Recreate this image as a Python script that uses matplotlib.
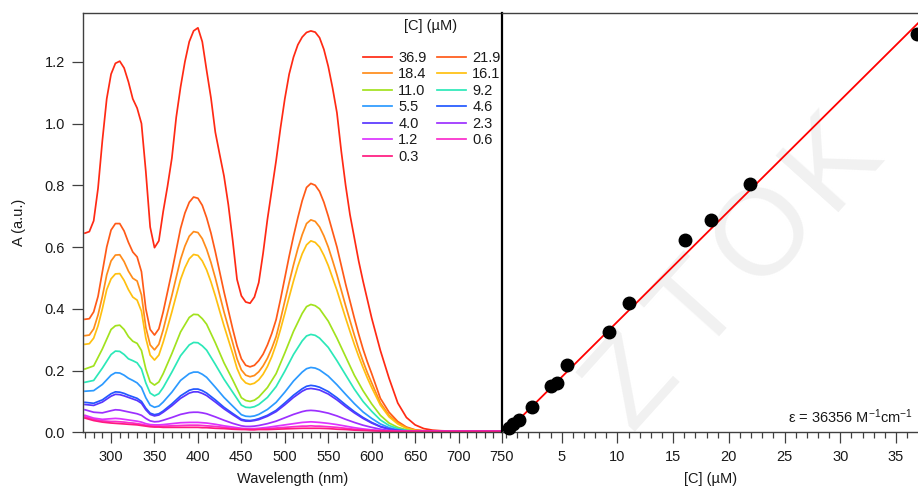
import matplotlib
matplotlib.use("Agg")
import numpy as np
import matplotlib.pyplot as plt
from matplotlib.ticker import MultipleLocator, FixedLocator

plt.rcParams['font.family'] = ['Liberation Sans', 'DejaVu Sans']
plt.rcParams['mathtext.fontset'] = 'custom'
plt.rcParams['mathtext.rm'] = 'Liberation Sans'
plt.rcParams['mathtext.it'] = 'Liberation Sans:italic'
plt.rcParams['mathtext.bf'] = 'Liberation Sans:bold'

# ---- absorption spectra (wavelength in nm, absorbance in a.u.) ----
# finely sampled wavelengths for the four most concentrated samples
wavelength_fine = [270, 275, 280, 285, 290, 295, 300, 305, 310, 315, 320, 325, 330, 335, 340, 345,
                   350, 355, 360, 365, 370, 375, 380, 385, 390, 395, 400, 405, 410, 415, 420, 425,
                   430, 435, 440, 445, 450, 455, 460, 465, 470, 475, 480, 485, 490, 495, 500, 505,
                   510, 515, 520, 525, 530, 535, 540, 545, 550, 555, 560, 565, 570, 575, 580, 585,
                   590, 595, 600, 610, 620, 630, 640, 650, 660, 670, 680, 700, 720, 750]
# coarser sampling for the dilute samples
wavelength = [270, 280, 290, 300, 305, 310, 315, 320, 325, 330, 335, 340, 345, 350, 355, 360,
              370, 380, 390, 395, 400, 405, 410, 420, 430, 440, 450, 455, 460, 465, 470,
              480, 490, 500, 510, 520, 525, 530, 535, 540, 550, 560, 570, 580, 590, 600,
              610, 620, 630, 640, 650, 660, 670, 680, 700, 720, 750]

a_36_9 = [0.645, 0.650, 0.685, 0.790, 0.945, 1.080, 1.160, 1.195, 1.202, 1.180, 1.135, 1.080, 1.050, 1.000, 0.845, 0.665,
          0.598, 0.620, 0.715, 0.797, 0.888, 1.020, 1.118, 1.200, 1.265, 1.300, 1.310, 1.265, 1.172, 1.083, 0.972, 0.900,
          0.830, 0.737, 0.622, 0.495, 0.442, 0.422, 0.418, 0.438, 0.485, 0.580, 0.690, 0.785, 0.880, 0.985, 1.080, 1.160,
          1.215, 1.255, 1.280, 1.295, 1.300, 1.296, 1.278, 1.240, 1.185, 1.115, 1.035, 0.910, 0.800, 0.705, 0.630, 0.555,
          0.490, 0.430, 0.370, 0.265, 0.175, 0.095, 0.048, 0.024, 0.012, 0.007, 0.005, 0.003, 0.003, 0.003]
a_21_9 = [0.366, 0.368, 0.390, 0.440, 0.520, 0.600, 0.655, 0.676, 0.676, 0.652, 0.615, 0.584, 0.568, 0.520, 0.400, 0.333,
          0.315, 0.335, 0.390, 0.455, 0.520, 0.590, 0.660, 0.710, 0.745, 0.762, 0.758, 0.735, 0.695, 0.645, 0.585, 0.520,
          0.455, 0.395, 0.335, 0.280, 0.238, 0.217, 0.212, 0.217, 0.232, 0.253, 0.283, 0.320, 0.365, 0.430, 0.500, 0.570,
          0.635, 0.695, 0.750, 0.793, 0.806, 0.800, 0.780, 0.745, 0.700, 0.650, 0.600, 0.540, 0.480, 0.425, 0.370, 0.318,
          0.270, 0.228, 0.190, 0.110, 0.065, 0.035, 0.017, 0.008, 0.005, 0.004, 0.003, 0.003, 0.003, 0.003]
a_18_4 = [0.313, 0.315, 0.335, 0.380, 0.440, 0.510, 0.555, 0.574, 0.575, 0.553, 0.522, 0.499, 0.490, 0.445, 0.340, 0.283,
          0.267, 0.285, 0.332, 0.388, 0.443, 0.502, 0.560, 0.603, 0.635, 0.650, 0.647, 0.627, 0.593, 0.550, 0.500, 0.445,
          0.390, 0.340, 0.290, 0.238, 0.202, 0.185, 0.180, 0.184, 0.196, 0.215, 0.240, 0.272, 0.310, 0.365, 0.425, 0.485,
          0.542, 0.595, 0.640, 0.676, 0.688, 0.683, 0.665, 0.636, 0.600, 0.556, 0.510, 0.460, 0.410, 0.362, 0.315, 0.270,
          0.230, 0.193, 0.160, 0.095, 0.055, 0.030, 0.015, 0.007, 0.004, 0.003, 0.003, 0.003, 0.003, 0.003]
a_16_1 = [0.285, 0.287, 0.305, 0.345, 0.400, 0.462, 0.497, 0.513, 0.514, 0.492, 0.462, 0.438, 0.428, 0.392, 0.305, 0.250,
          0.234, 0.250, 0.292, 0.340, 0.390, 0.443, 0.495, 0.533, 0.562, 0.576, 0.573, 0.555, 0.526, 0.487, 0.442, 0.393,
          0.345, 0.300, 0.255, 0.207, 0.175, 0.160, 0.155, 0.159, 0.170, 0.188, 0.213, 0.245, 0.285, 0.333, 0.385, 0.438,
          0.490, 0.538, 0.578, 0.607, 0.620, 0.615, 0.600, 0.573, 0.540, 0.500, 0.460, 0.415, 0.370, 0.327, 0.285, 0.246,
          0.210, 0.176, 0.145, 0.088, 0.050, 0.027, 0.013, 0.006, 0.004, 0.003, 0.003, 0.003, 0.003, 0.003]
a_11_0 = [0.205, 0.215, 0.27, 0.333, 0.345, 0.347, 0.333, 0.31, 0.295, 0.288, 0.265, 0.205, 0.163, 0.153, 0.163, 0.19,
          0.255, 0.325, 0.372, 0.382, 0.381, 0.368, 0.35, 0.29, 0.225, 0.17, 0.112, 0.103, 0.10, 0.104, 0.114,
          0.145, 0.19, 0.257, 0.327, 0.385, 0.407, 0.414, 0.41, 0.40, 0.36, 0.305, 0.245, 0.185, 0.135, 0.092,
          0.055, 0.03, 0.016, 0.008, 0.004, 0.003, 0.003, 0.003, 0.003, 0.003, 0.003]
a_9_2 = [0.162, 0.168, 0.208, 0.252, 0.263, 0.262, 0.252, 0.238, 0.232, 0.225, 0.205, 0.16, 0.127, 0.118, 0.125, 0.145,
         0.195, 0.248, 0.283, 0.291, 0.29, 0.28, 0.266, 0.22, 0.172, 0.13, 0.088, 0.081, 0.08, 0.083, 0.09,
         0.113, 0.148, 0.198, 0.252, 0.296, 0.312, 0.317, 0.314, 0.305, 0.275, 0.232, 0.186, 0.14, 0.10, 0.068,
         0.04, 0.022, 0.012, 0.006, 0.004, 0.003, 0.003, 0.003, 0.003, 0.003, 0.003]
a_5_5 = [0.133, 0.135, 0.155, 0.185, 0.193, 0.192, 0.185, 0.175, 0.168, 0.16, 0.145, 0.112, 0.088, 0.081, 0.085, 0.098,
         0.13, 0.168, 0.19, 0.195, 0.195, 0.188, 0.178, 0.146, 0.113, 0.085, 0.057, 0.052, 0.051, 0.053, 0.058,
         0.074, 0.097, 0.13, 0.166, 0.195, 0.206, 0.21, 0.208, 0.202, 0.182, 0.154, 0.123, 0.093, 0.066, 0.045,
         0.027, 0.015, 0.008, 0.005, 0.003, 0.003, 0.003, 0.003, 0.003, 0.003, 0.003]
a_4_6 = [0.097, 0.094, 0.105, 0.125, 0.131, 0.13, 0.126, 0.12, 0.115, 0.11, 0.10, 0.078, 0.062, 0.057, 0.06, 0.069,
         0.092, 0.118, 0.136, 0.14, 0.14, 0.135, 0.127, 0.105, 0.081, 0.061, 0.042, 0.039, 0.038, 0.04, 0.044,
         0.055, 0.071, 0.095, 0.12, 0.141, 0.149, 0.152, 0.15, 0.146, 0.132, 0.112, 0.089, 0.067, 0.048, 0.032,
         0.019, 0.011, 0.006, 0.004, 0.003, 0.003, 0.003, 0.003, 0.003, 0.003, 0.003]
a_4_0 = [0.09, 0.087, 0.098, 0.117, 0.123, 0.122, 0.118, 0.113, 0.108, 0.103, 0.094, 0.073, 0.058, 0.053, 0.056, 0.065,
         0.086, 0.11, 0.127, 0.131, 0.131, 0.126, 0.119, 0.098, 0.076, 0.057, 0.039, 0.036, 0.036, 0.038, 0.041,
         0.052, 0.067, 0.089, 0.113, 0.133, 0.14, 0.142, 0.14, 0.137, 0.124, 0.105, 0.083, 0.063, 0.045, 0.03,
         0.018, 0.01, 0.006, 0.004, 0.003, 0.003, 0.003, 0.003, 0.003, 0.003, 0.003]
a_2_3 = [0.073, 0.065, 0.063, 0.07, 0.073, 0.072, 0.069, 0.066, 0.063, 0.06, 0.055, 0.045, 0.037, 0.034, 0.035, 0.039,
         0.048, 0.058, 0.064, 0.065, 0.065, 0.063, 0.06, 0.05, 0.039, 0.029, 0.021, 0.019, 0.019, 0.02, 0.022,
         0.028, 0.036, 0.047, 0.058, 0.067, 0.07, 0.071, 0.07, 0.068, 0.062, 0.053, 0.042, 0.032, 0.023, 0.016,
         0.01, 0.006, 0.004, 0.003, 0.003, 0.003, 0.003, 0.003, 0.003, 0.003, 0.003]
a_1_2 = [0.055, 0.046, 0.042, 0.044, 0.045, 0.044, 0.042, 0.04, 0.038, 0.036, 0.033, 0.028, 0.025, 0.024, 0.024, 0.025,
         0.028, 0.031, 0.032, 0.032, 0.032, 0.031, 0.03, 0.026, 0.021, 0.017, 0.013, 0.012, 0.012, 0.012, 0.013,
         0.016, 0.02, 0.024, 0.028, 0.032, 0.033, 0.034, 0.033, 0.032, 0.029, 0.025, 0.02, 0.015, 0.011, 0.008,
         0.006, 0.004, 0.003, 0.003, 0.003, 0.003, 0.003, 0.003, 0.003, 0.003, 0.003]
a_0_6 = [0.05, 0.042, 0.037, 0.035, 0.035, 0.034, 0.033, 0.031, 0.03, 0.028, 0.026, 0.023, 0.021, 0.02, 0.02, 0.02,
         0.021, 0.022, 0.023, 0.023, 0.023, 0.022, 0.021, 0.019, 0.016, 0.013, 0.011, 0.01, 0.01, 0.01, 0.011,
         0.012, 0.014, 0.016, 0.018, 0.02, 0.02, 0.021, 0.02, 0.02, 0.018, 0.016, 0.013, 0.01, 0.008, 0.006,
         0.005, 0.004, 0.003, 0.003, 0.003, 0.003, 0.003, 0.003, 0.003, 0.003, 0.003]
a_0_3 = [0.046, 0.038, 0.033, 0.03, 0.029, 0.028, 0.027, 0.026, 0.025, 0.024, 0.022, 0.02, 0.018, 0.017, 0.017, 0.016,
         0.016, 0.016, 0.016, 0.016, 0.016, 0.015, 0.015, 0.013, 0.012, 0.01, 0.009, 0.009, 0.008, 0.008, 0.009,
         0.009, 0.01, 0.011, 0.012, 0.013, 0.013, 0.013, 0.013, 0.013, 0.012, 0.01, 0.009, 0.007, 0.006, 0.005,
         0.004, 0.004, 0.003, 0.003, 0.003, 0.003, 0.003, 0.003, 0.003, 0.003, 0.003]

spectrum_labels = ["36.9", "21.9", "18.4", "16.1", "11.0", "9.2", "5.5", "4.6", "4.0", "2.3", "1.2", "0.6", "0.3"]
spectra = [a_36_9, a_21_9, a_18_4, a_16_1, a_11_0, a_9_2, a_5_5, a_4_6, a_4_0, a_2_3, a_1_2, a_0_6, a_0_3]
spectrum_colors = ["#ff2a14", "#ff5a18", "#ff8c1a", "#ffc010", "#a2e21e", "#2ce8b8", "#2c9aff",
                   "#2258ff", "#5836ff", "#9c30ff", "#dc34ff", "#fa2ccc", "#ff1a80"]

# ---- calibration: absorbance at 530 nm vs concentration ----
concentration = [0.3, 0.6, 1.2, 2.3, 4.0, 4.6, 5.5, 9.2, 11.0, 16.1, 18.4, 21.9, 36.9]   # µM
abs_530 = [0.015, 0.027, 0.040, 0.082, 0.152, 0.163, 0.221, 0.330, 0.424, 0.632, 0.698, 0.816, 1.308]
epsilon = 36356          # M^-1 cm^-1 (1 cm path)
fit_intercept = 0.0

W, H = 918, 488
fig = plt.figure(figsize=(W / 100, H / 100), dpi=100)

ax_left, ax_right_edge, ax_mid = 83, 918, 502
ax_top, ax_bottom = 13, 432.3
bottom_f = (H - ax_bottom) / H
height_f = (ax_bottom - ax_top) / H

ax1 = fig.add_axes([ax_left / W, bottom_f, (ax_mid - ax_left) / W, height_f])
ax2 = fig.add_axes([ax_mid / W, bottom_f, (ax_right_edge - ax_mid) / W, height_f])
for ax in (ax1, ax2):
    ax.set_facecolor("none")

# faint diagonal watermark behind both panels
wm_letters = "ZTOK"
wm_start = np.array([632.0, 383.0])
wm_step = np.array([66.9, -74.3])
for i, ch in enumerate(wm_letters):
    px, py = wm_start + i * wm_step
    fig.text(px / W, 1 - py / H, ch, fontsize=88, color="#f1f1f1", rotation=48,
             ha="center", va="center", zorder=-5)

# spectra
handles = {}
for lab, ys, col in zip(spectrum_labels, spectra, spectrum_colors):
    xs = wavelength_fine if len(ys) == len(wavelength_fine) else wavelength
    ln, = ax1.plot(xs, ys, color=col, lw=1.25, label=lab, solid_joinstyle="round")
    handles[lab] = ln

ax1.set_xlim(267.7, 750)
ax1.set_ylim(0, 1.358)
ax1.xaxis.set_major_locator(MultipleLocator(50))
ax1.xaxis.set_minor_locator(MultipleLocator(10))
ax1.yaxis.set_major_locator(FixedLocator([0, 0.2, 0.4, 0.6, 0.8, 1.0, 1.2]))
ax1.yaxis.set_major_formatter(plt.FuncFormatter(lambda v, p: f"{v:.1f}"))

frame_col = "#404040"
for ax in (ax1, ax2):
    for s in ax.spines.values():
        s.set_color(frame_col)
        s.set_linewidth(1.0)
    ax.tick_params(which="major", direction="out", length=8, width=0.9, color=frame_col,
                   labelsize=10.5, labelcolor="#1a1a1a", pad=5)
    ax.tick_params(which="minor", direction="out", length=4.3, width=0.9, color=frame_col)
ax1.spines["right"].set_visible(False)
ax2.spines["right"].set_visible(False)
ax2.spines["left"].set_color("black")
ax2.spines["left"].set_linewidth(1.6)

# legend (row-wise order in two columns)
col1 = ["36.9", "18.4", "11.0", "5.5", "4.0", "1.2", "0.3"]
col2 = ["21.9", "16.1", "9.2", "4.6", "2.3", "0.6"]
order = col1 + col2
leg = ax1.legend([handles[k] for k in order], order, ncol=2, frameon=False,
                 fontsize=10.5, handlelength=1.95, handletextpad=0.45, columnspacing=0.73,
                 labelspacing=0.17, borderpad=0, borderaxespad=0,
                 loc="upper left", bbox_to_anchor=(363.3 / W, 1 - 51.0 / H),
                 bbox_transform=fig.transFigure)
for t in leg.get_texts():
    t.set_color("#1a1a1a")
fig.text(431 / W, 1 - 26 / H, "[C] (µM)", fontsize=10.5, ha="center", va="center", color="#1a1a1a")

# calibration panel
fit_x = np.array([-1.0, 38.0])
fit_y = epsilon * 1e-6 * fit_x + fit_intercept
ax2.plot(fit_x, fit_y, color="#ff0000", lw=1.3, zorder=2)
ax2.plot(concentration, abs_530, "o", color="black", ms=9, zorder=3, clip_on=False)
ax2.set_xlim(-0.36, 36.98)
ax2.set_ylim(0, 1.378)
ax2.xaxis.set_major_locator(FixedLocator([5, 10, 15, 20, 25, 30, 35]))
ax2.xaxis.set_minor_locator(MultipleLocator(1))
ax2.set_yticks([])
ax2.text(0.988, 0.014, r"ε = 36356 M$^{-1}$cm$^{-1}$", transform=ax2.transAxes,
         ha="right", va="bottom", fontsize=10.5, color="#1a1a1a")

# axis titles
fig.text(19.5 / W, 1 - 222.6 / H, "A (a.u.)", rotation=90, ha="center", va="center",
         fontsize=10.5, color="#1a1a1a")
fig.text(292.5 / W, 1 - 479 / H, "Wavelength (nm)", ha="center", va="center",
         fontsize=10.5, color="#1a1a1a")
fig.text(711 / W, 1 - 479 / H, "[C] (µM)", ha="center", va="center",
         fontsize=10.5, color="#1a1a1a")

fig.savefig("out.png", dpi=100)
